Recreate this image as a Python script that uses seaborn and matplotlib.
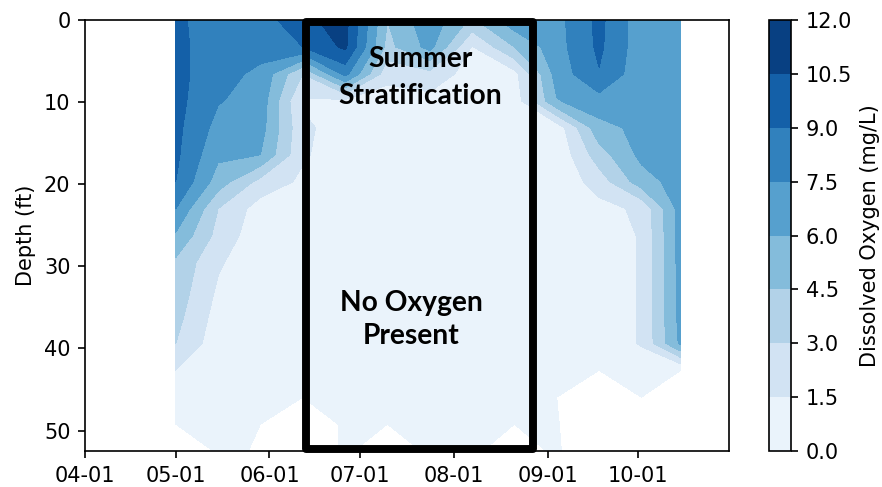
import matplotlib
matplotlib.use("Agg")
import matplotlib.pyplot as plt
import matplotlib.dates as mdates
from matplotlib.patches import Rectangle
import numpy as np
import pandas as pd
import seaborn as sns

# sampling dates (roughly every two weeks) and profile depths (1 m steps)
sample_dates = ["2019-05-01", "2019-05-15", "2019-05-29", "2019-06-12", "2019-06-26",
                "2019-07-10", "2019-07-24", "2019-08-07", "2019-08-21", "2019-09-04",
                "2019-09-18", "2019-10-02", "2019-10-15"]
depths_m = [0, 1, 2, 3, 4, 5, 6, 7, 8, 9, 10, 11, 12, 13, 14, 15, 16]

# dissolved oxygen (mg/L) per profile, surface to bottom (negative = below sensor range)
do_may01 = [9.3, 9.4, 9.5, 9.5, 9.4, 9.3, 9.0, 7.5, 5.8, 4.2, 3.9, 3.5, 3.0, 1.5, 0.6, 0.0, -0.4]
do_may15 = [8.2, 8.2, 8.0, 7.6, 7.0, 6.3, 5.3, 3.0, 2.5, 1.7, 1.3, 0.9, 0.6, 0.4, 0.3, 0.1, 0.05]
do_may29 = [8.2, 8.0, 7.2, 6.9, 6.6, 6.0, 2.5, 0.8, 0.5, 0.4, 0.3, 0.3, 0.2, 0.2, 0.1, 0.0, -0.02]
do_jun12 = [10.2, 9.0, 3.0, 1.3, 1.8, 1.7, 1.2, 0.6, 0.4, 0.3, 0.3, 0.2, 0.2, 0.1, 0.0, -0.5, -0.5]
do_jun26 = [11.0, 10.8, 8.0, 1.2, 0.8, 0.6, 0.5, 0.4, 0.3, 0.3, 0.2, 0.2, 0.2, 0.2, 0.2, 0.1, 0.1]
do_jul10 = [4.5, 4.0, 2.0, 0.8, 0.5, 0.4, 0.3, 0.3, 0.2, 0.2, 0.2, 0.2, 0.1, 0.1, 0.1, 0.0, -0.4]
do_jul24 = [7.0, 6.5, 2.5, 1.0, 0.6, 0.4, 0.3, 0.3, 0.2, 0.2, 0.2, 0.2, 0.1, 0.1, 0.1, 0.1, 0.1]
do_aug07 = [4.2, 1.4, 0.8, 0.5, 0.4, 0.3, 0.3, 0.2, 0.2, 0.2, 0.2, 0.1, 0.1, 0.1, 0.1, 0.1, 0.1]
do_aug21 = [7.0, 4.5, 1.0, 0.6, 0.4, 0.3, 0.3, 0.2, 0.2, 0.2, 0.2, 0.1, 0.1, 0.1, 0.1, 0.0, -0.3]
do_sep04 = [7.0, 6.9, 6.6, 5.9, 0.6, 0.3, 0.3, 0.2, 0.2, 0.2, 0.2, 0.1, 0.1, 0.1, 0.0, 0.05, 0.1]
do_sep18 = [9.4, 9.3, 8.9, 6.9, 5.5, 3.8, 2.2, 1.0, 0.8, 0.8, 0.8, 0.8, 0.7, 0.0, -0.8, -0.8, -0.8]
do_oct02 = [6.6, 6.6, 6.5, 6.5, 6.4, 6.4, 5.3, 1.8, 1.6, 1.6, 1.6, 1.6, 1.6, 0.8, 0.0, -0.5, -0.5]
do_oct15 = [7.0, 7.0, 6.9, 6.9, 6.8, 6.8, 6.7, 6.7, 6.6, 6.6, 6.5, 6.5, 6.3, 0.0, -0.8, -0.8, -0.8]

profiles = [do_may01, do_may15, do_may29, do_jun12, do_jun26, do_jul10, do_jul24,
            do_aug07, do_aug21, do_sep04, do_sep18, do_oct02, do_oct15]

cbar_levels = [0.0, 1.5, 3.0, 4.5, 6.0, 7.5, 9.0, 10.5, 12.0]
depth_ticks = [0, 10, 20, 30, 40, 50]


if __name__ == "__main__":
    sns.set_style("ticks")
    plt.rcParams.update({
        "font.family": ["DejaVu Sans"],
        "text.color": "black",
        "axes.labelcolor": "black",
        "axes.edgecolor": "black",
        "axes.linewidth": 0.8,
        "xtick.color": "black",
        "ytick.color": "black",
        "xtick.major.size": 3.5,
        "ytick.major.size": 3.5,
        "xtick.major.width": 0.8,
        "ytick.major.width": 0.8,
        "font.size": 10,
    })

    # build a depth x date table
    dataframe = pd.DataFrame(
        {pd.Timestamp(d): p for d, p in zip(sample_dates, profiles)},
        index=np.array(depths_m) * 3.28084,
    )

    x = mdates.date2num(dataframe.columns.to_pydatetime())
    y = dataframe.index.values
    z = dataframe.values

    fig = plt.figure(figsize=(882 / 150, 487 / 150), dpi=150)
    ax = fig.add_axes([0.0964, 0.0739, 0.7302, 0.885])
    cax = fig.add_axes([0.8719, 0.0739, 0.0249, 0.885])

    cs = ax.contourf(x, y, z, levels=cbar_levels, cmap="Blues")

    ax.set_ylim(y.max(), 0)
    ax.set_xlim(mdates.date2num(pd.Timestamp("2019-04-01")), mdates.date2num(pd.Timestamp("2019-10-31")))
    ax.xaxis.set_major_locator(mdates.MonthLocator())
    ax.xaxis.set_major_formatter(mdates.DateFormatter("%m-%d"))
    ax.set_yticks(depth_ticks)
    ax.set_ylabel("Depth (ft)")

    cbar = fig.colorbar(cs, cax=cax)
    cbar.set_label("Dissolved Oxygen (mg/L)")
    cbar.outline.set_linewidth(0.8)

    # stratification box
    x0 = mdates.date2num(pd.Timestamp("2019-06-13"))
    x1 = mdates.date2num(pd.Timestamp("2019-08-27"))
    box = Rectangle((x0, 52.3), x1 - x0, 0.25 - 52.3, fill=False, edgecolor="black",
                    linewidth=3.8, joinstyle="round", clip_on=False, zorder=5)
    ax.add_patch(box)

    ax.text(mdates.date2num(pd.Timestamp("2019-07-21")), 7.0, "Summer\nStratification",
            ha="center", va="center", fontsize=13.5, fontweight="bold", family=["Lato"],
            linespacing=1.5, zorder=6)
    ax.text(mdates.date2num(pd.Timestamp("2019-07-18")), 36.5, "No Oxygen\nPresent",
            ha="center", va="center", fontsize=13.5, fontweight="bold", family=["Lato"],
            linespacing=1.35, zorder=6)

    plt.savefig("out.png", dpi=150)
    plt.close()
